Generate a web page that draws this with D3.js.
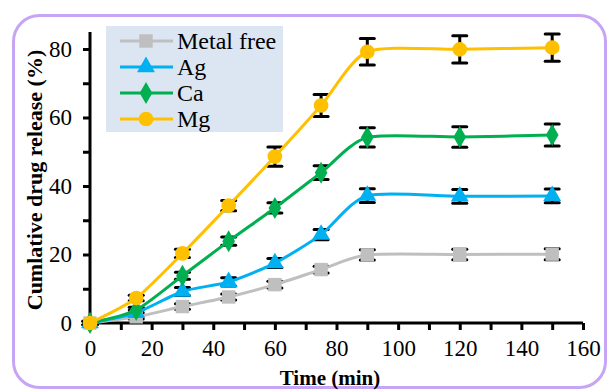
<!DOCTYPE html>
<html>
<head>
<meta charset="utf-8">
<script src="https://cdn.jsdelivr.net/npm/d3@7"></script>
<style>
  body { margin: 0; background: #fff; }
  svg { display: block; }
  svg text { font-family: "Liberation Serif", "Times New Roman", serif; fill: #000; }
</style>
</head>
<body>
<svg id="chart" width="608" height="390"></svg>
<script>
// data
var times = [0, 15, 30, 45, 60, 75, 90, 120, 150];
var metalFree = [0, 1.8, 4.8, 7.6, 11.2, 15.6, 19.9, 20, 20.1];
var metalFreeErr = [0.5, 0.6, 0.8, 0.9, 1, 1, 1.5, 1.5, 1.6];
var ag = [0, 3, 9.2, 12, 17.5, 25.8, 37.2, 37, 37.1];
var agErr = [0.5, 0.8, 1.2, 1.2, 1.3, 1.5, 2, 2, 2];
var ca = [0, 3.8, 13.8, 23.9, 33.6, 43.9, 54.2, 54.3, 54.9];
var caErr = [0.5, 0.8, 1, 1.2, 1.5, 2, 2.8, 3, 3.2];
var mg = [0, 7.3, 20.3, 34.3, 48.6, 63.5, 79.2, 79.9, 80.4];
var mgErr = [0.5, 0.8, 1.2, 1.5, 2.8, 3.2, 3.9, 4, 4];
var xTicks = [0, 20, 40, 60, 80, 100, 120, 140, 160];
var yTicks = [0, 20, 40, 60, 80];

var series = [
  { name: "Metal free", values: metalFree, err: metalFreeErr, color: "#bfbfbf", marker: "square" },
  { name: "Ag", values: ag, err: agErr, color: "#00b0f0", marker: "triangle" },
  { name: "Ca", values: ca, err: caErr, color: "#00b050", marker: "diamond" },
  { name: "Mg", values: mg, err: mgErr, color: "#ffc000", marker: "circle" }
];

var svg = d3.select("#chart");

// purple frame
svg.append("rect")
   .attr("x", 13.5).attr("y", 15.5)
   .attr("width", 592).attr("height", 372)
   .attr("rx", 26).attr("ry", 26)
   .attr("fill", "#fff")
   .attr("stroke", "#c6a6f4")
   .attr("stroke-width", 3);

var x = d3.scaleLinear().domain([0, 160]).range([90, 583]);
var y = d3.scaleLinear().domain([0, 80]).range([323, 49]);

// axes, minor ticks every 10, labels only on the major ones
var xAxis = svg.append("g").attr("transform", "translate(0,323)")
   .call(d3.axisBottom(x).tickValues(d3.range(0, 161, 10)).tickSize(7).tickPadding(10)
           .tickFormat(function(d) { return xTicks.indexOf(d) >= 0 ? d : ""; }));
var yAxis = svg.append("g").attr("transform", "translate(90,0)")
   .call(d3.axisLeft(y).tickValues(d3.range(0, 81, 10)).tickSize(7).tickPadding(11)
           .tickFormat(function(d) { return yTicks.indexOf(d) >= 0 ? d : ""; }));

[xAxis, yAxis].forEach(function(a) {
  a.attr("font-family", null).attr("font-size", null);
  a.select(".domain").attr("stroke", "#000").attr("stroke-width", 3);
  a.selectAll(".tick line").attr("stroke", "#000").attr("stroke-width", 3);
  a.selectAll(".tick text").attr("fill", "#000").style("font-size", "23px");
});
xAxis.select(".domain").attr("d", "M90,0H583");
yAxis.select(".domain").attr("d", "M0,32V323");

// titles
svg.append("text")
   .attr("x", 330).attr("y", 385)
   .attr("text-anchor", "middle")
   .attr("font-weight", "bold").attr("font-size", "21px")
   .text("Time (min)");
svg.append("text")
   .attr("transform", "translate(42,180) rotate(-90)")
   .attr("text-anchor", "middle")
   .attr("font-weight", "bold").attr("font-size", "22px")
   .text("Cumlative drug release (%)");

var line = d3.line()
   .curve(d3.curveCardinal.tension(0.3))
   .x(function(d) { return x(d.t); })
   .y(function(d) { return y(d.v); });

function pts(s) {
  return times.map(function(t, i) { return { t: t, v: s.values[i], e: s.err[i] }; });
}

var symbols = {
  square: d3.symbol().type(d3.symbolSquare).size(180),
  triangle: d3.symbol().type(d3.symbolTriangle).size(140),
  diamond: d3.symbol().type(d3.symbolDiamond).size(140),
  circle: d3.symbol().type(d3.symbolCircle).size(170)
};

// error bars
series.forEach(function(s) {
  var g = svg.append("g").attr("stroke", "#000").attr("stroke-width", 3);
  pts(s).forEach(function(d) {
    var cx = x(d.t), y1 = y(d.v + d.e), y2 = y(d.v - d.e);
    g.append("line").attr("x1", cx).attr("x2", cx).attr("y1", y1).attr("y2", y2);
    g.append("line").attr("x1", cx - 7).attr("x2", cx + 7).attr("y1", y1).attr("y2", y1).attr("stroke-linecap", "round");
    g.append("line").attr("x1", cx - 7).attr("x2", cx + 7).attr("y1", y2).attr("y2", y2).attr("stroke-linecap", "round");
  });
});

// lines and markers
series.forEach(function(s) {
  svg.append("path")
     .datum(pts(s))
     .attr("fill", "none")
     .attr("stroke", s.color)
     .attr("stroke-width", 3)
     .attr("d", line);
  svg.append("g").selectAll("path")
     .data(pts(s))
     .enter().append("path")
     .attr("transform", function(d) { return "translate(" + x(d.t) + "," + y(d.v) + ")"; })
     .attr("d", symbols[s.marker])
     .attr("fill", s.color);
});

// legend
var legend = svg.append("g");
legend.append("rect")
   .attr("x", 106).attr("y", 26).attr("width", 177).attr("height", 106)
   .attr("fill", "#dce6f2");
series.forEach(function(s, i) {
  var ly = 41 + i * 26;
  legend.append("line")
     .attr("x1", 120).attr("x2", 173).attr("y1", ly).attr("y2", ly)
     .attr("stroke", s.color).attr("stroke-width", 3);
  legend.append("path")
     .attr("transform", "translate(146," + ly + ")")
     .attr("d", symbols[s.marker])
     .attr("fill", s.color);
  legend.append("text")
     .attr("x", 177).attr("y", ly + 8)
     .attr("font-size", "24px")
     .text(s.name);
});
</script>
</body>
</html>
